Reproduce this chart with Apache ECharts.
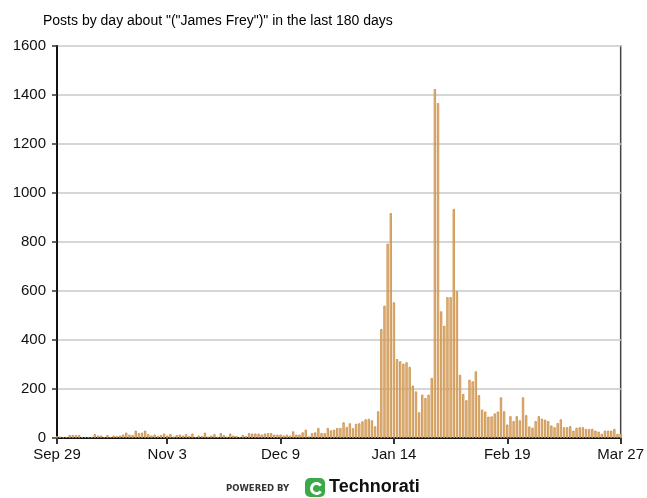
<!DOCTYPE html>
<html>
<head>
<meta charset="utf-8">
<script src="https://cdn.jsdelivr.net/npm/echarts@6/dist/echarts.min.js"></script>
<style>
	html, body { margin: 0; padding: 0; background: #fff; }
	#chart { width: 647px; height: 498px; }
</style>
</head>
<body>
<div id="chart"></div>
<script>
// posts per day, 180 days from Sep 29 to Mar 27
var posts = [
	8, 6, 3, 4, 12, 12, 12, 12, 4, 4,
	4, 5, 16, 10, 10, 4, 12, 5, 10, 8,
	10, 14, 22, 14, 12, 30, 20, 22, 30, 16,
	10, 14, 8, 12, 18, 10, 16, 6, 12, 14,
	10, 16, 8, 18, 4, 10, 8, 22, 6, 10,
	16, 5, 20, 12, 6, 18, 10, 8, 4, 12,
	8, 20, 18, 18, 18, 14, 18, 20, 20, 14,
	14, 14, 10, 14, 10, 27, 14, 14, 23, 34,
	7, 20, 23, 41, 20, 20, 41, 31, 34, 41,
	41, 64, 45, 60, 40, 58, 60, 68, 76, 78,
	72, 48, 109, 445, 540, 793, 918, 554, 322, 313,
	303, 309, 290, 214, 190, 105, 177, 163, 177, 245,
	1424, 1367, 517, 458, 575, 575, 935, 599, 258, 180,
	154, 238, 231, 272, 175, 116, 108, 87, 88, 100,
	108, 166, 109, 55, 89, 69, 89, 72, 166, 93,
	47, 42, 69, 89, 79, 75, 69, 51, 44, 61,
	76, 44, 44, 48, 30, 42, 44, 44, 37, 37,
	37, 30, 26, 17, 30, 30, 30, 37, 17, 17
];
var tickIdx = [0, 35, 71, 107, 143, 179];
var tickLabels = ['Sep 29', 'Nov 3', 'Dec 9', 'Jan 14', 'Feb 19', 'Mar 27'];
var days = posts.map(function (v, i) { return 'd' + i; });

var myChart = echarts.init(document.getElementById('chart'));
var option = {
	backgroundColor: '#fff',
	animation: false,
	title: {
		text: 'Posts by day about "("James Frey")" in the last 180 days',
		left: 38,
		top: 9,
		textStyle: {
			fontFamily: 'Liberation Sans',
			fontWeight: 'normal',
			fontSize: 14,
			color: '#000'
		}
	},
	grid: {
		left: 57,
		right: 25,
		top: 46,
		bottom: 60,
		show: true,
		borderColor: '#444',
		borderWidth: 1.5
	},
	xAxis: {
		type: 'category',
		data: days,
		boundaryGap: false,
		axisLine: { lineStyle: { color: '#111', width: 2 } },
		axisTick: {
			length: 6,
			lineStyle: { color: '#333', width: 2 },
			interval: function (i) { return tickIdx.indexOf(i) >= 0; }
		},
		axisLabel: {
			interval: function (i) { return tickIdx.indexOf(i) >= 0; },
			formatter: function (v, i) { return tickLabels[tickIdx.indexOf(i)]; },
			fontFamily: 'Liberation Sans',
			fontSize: 15,
			color: '#111',
			margin: 9
		}
	},
	yAxis: {
		type: 'value',
		min: 0,
		max: 1600,
		interval: 200,
		axisLine: { show: true, lineStyle: { color: '#111', width: 2 } },
		axisTick: { show: true, length: 5, lineStyle: { color: '#333', width: 1.5 } },
		axisLabel: {
			formatter: function (v) { return String(v); },
			fontFamily: 'Liberation Sans',
			fontSize: 15,
			color: '#111',
			margin: 11
		},
		splitLine: { lineStyle: { color: '#d6d6d6', width: 2 } }
	},
	series: [{
		type: 'bar',
		data: posts,
		barWidth: '72%',
		itemStyle: {
			color: '#e4bd8c',
			borderColor: '#c98a40',
			borderWidth: 0.8
		}
	}],
	graphic: [
		{
			type: 'text',
			left: 226,
			top: 484,
			style: {
				text: 'POWERED BY',
				font: 'bold 8.5px "DejaVu Sans"',
				fill: '#333'
			}
		},
		{
			type: 'rect',
			left: 305,
			top: 478,
			shape: { width: 20, height: 19, r: 5 },
			style: { fill: '#3aaa48' }
		},
		{
			type: 'arc',
			left: 309,
			top: 481,
			shape: { cx: 7, cy: 7, r: 5, startAngle: 0.6, endAngle: 5.7 },
			style: { stroke: '#fff', lineWidth: 3, fill: null }
		},
		{
			type: 'text',
			left: 329,
			top: 478,
			style: {
				text: 'Technorati',
				font: 'bold 18px "Liberation Sans"',
				fill: '#111'
			}
		}
	]
};
myChart.setOption(option);
</script>
</body>
</html>
